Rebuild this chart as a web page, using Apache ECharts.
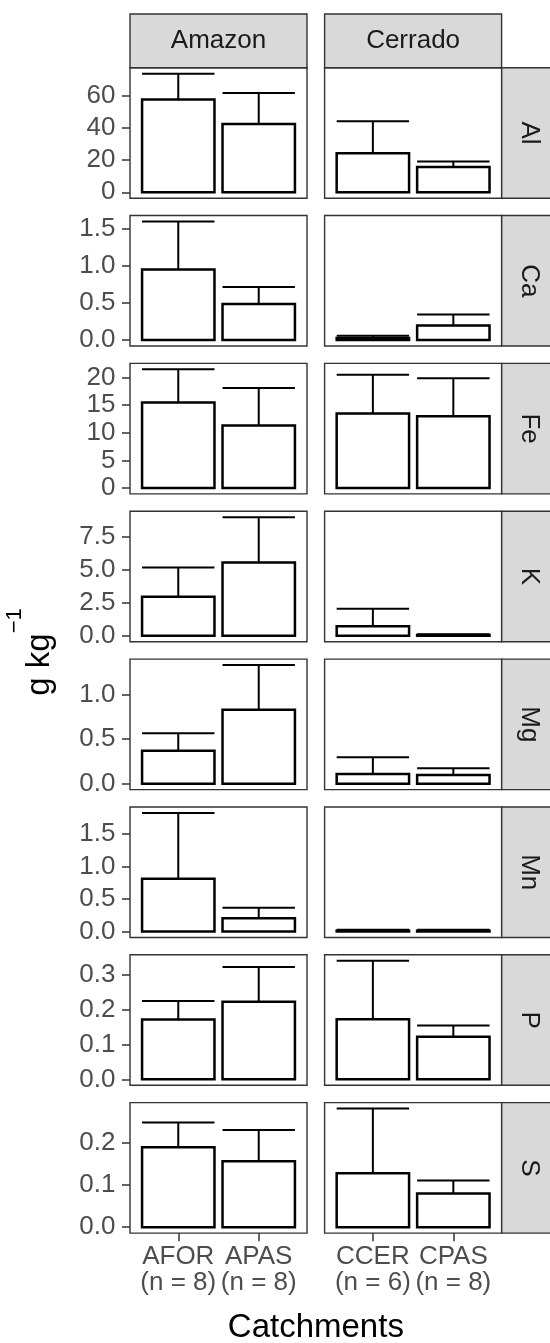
<!DOCTYPE html>
<html><head><meta charset="utf-8">
<script src="https://cdn.jsdelivr.net/npm/echarts@6/dist/echarts.min.js"></script>
<style>html,body{margin:0;padding:0;background:#fff}#c{width:550px;height:1343px}</style>
</head><body><div id="c"></div>
<script>
// ---------- data ----------
const regions = ['Amazon', 'Cerrado'];
const elements = ['Al', 'Ca', 'Fe', 'K', 'Mg', 'Mn', 'P', 'S'];
const catAmazon = ['AFOR\n(n = 8)', 'APAS\n(n = 8)'];
const catCerrado = ['CCER\n(n = 6)', 'CPAS\n(n = 8)'];
// bar heights (means), one value per element
const meanAFOR = [57.9, 0.95, 15.5, 2.95, 0.37, 0.81, 0.171, 0.190];
const meanAPAS = [42.6, 0.485, 11.3, 5.55, 0.83, 0.205, 0.222, 0.157];
const meanCCER = [24.4, 0.03, 13.5, 0.73, 0.108, 0.012, 0.172, 0.128];
const meanCPAS = [15.8, 0.196, 13.0, 0.06, 0.097, 0.012, 0.122, 0.080];
// error bar tops (mean + sd)
const upperAFOR = [74.0, 1.594, 21.5, 5.17, 0.567, 1.821, 0.224, 0.249];
const upperAPAS = [61.9, 0.713, 18.1, 8.97, 1.331, 0.363, 0.321, 0.231];
const upperCCER = [44.3, 0.06, 20.5, 2.05, 0.295, 0.028, 0.339, 0.282];
const upperCPAS = [19.2, 0.343, 19.9, 0.12, 0.172, 0.028, 0.154, 0.111];
// y tick labels per element row
const yTickLabels = [
  ['0', '20', '40', '60'],
  ['0.0', '0.5', '1.0', '1.5'],
  ['0', '5', '10', '15', '20'],
  ['0.0', '2.5', '5.0', '7.5'],
  ['0.0', '0.5', '1.0'],
  ['0.0', '0.5', '1.0', '1.5'],
  ['0.0', '0.1', '0.2', '0.3'],
  ['0.0', '0.1', '0.2']
];
const xTitle = 'Catchments';

// ---------- layout ----------
const FONT = '"Liberation Sans", Arial, sans-serif';
const colLeft = [130, 324.6];
const panelW = 177;
const rowTop0 = 67.7, rowStep = 147.85, panelH = 130.5;
const stripTop = 14, stripH = 53.7, rStripLeft = 501.7, rStripW = 54;
const BORDER = '#333333';

const chart = echarts.init(document.getElementById('c'), null, {renderer: 'canvas'});

const grids = [], xAxes = [], yAxes = [], series = [], graphics = [];
const cats = [catAmazon, catCerrado];
const means = [[meanAFOR, meanAPAS], [meanCCER, meanCPAS]];
const uppers = [[upperAFOR, upperAPAS], [upperCCER, upperCPAS]];

function renderItem(params, api) {
  const x = api.value(0), m = api.value(1), u = api.value(2);
  const hw = 0.45;
  const p0 = api.coord([x - hw, 0]), p1 = api.coord([x + hw, m]);
  const pm = api.coord([x, m]), pu = api.coord([x, u]);
  const cl = api.coord([x - hw, u]), cr = api.coord([x + hw, u]);
  return {
    type: 'group',
    children: [
      {type: 'line', shape: {x1: pm[0], y1: pm[1], x2: pu[0], y2: pu[1]}, style: {stroke: '#000', lineWidth: 2}},
      {type: 'line', shape: {x1: cl[0], y1: cl[1], x2: cr[0], y2: cr[1]}, style: {stroke: '#000', lineWidth: 2}},
      {type: 'rect', shape: {x: p0[0], y: p1[1], width: p1[0] - p0[0], height: p0[1] - p1[1]},
       style: {fill: '#fff', stroke: '#000', lineWidth: 2.5}}
    ]
  };
}

elements.forEach((el, r) => {
  let M = 0;
  for (let c = 0; c < 2; c++) for (let k = 0; k < 2; k++) M = Math.max(M, uppers[c][k][r], means[c][k][r]);
  const ymin = -0.05 * M, ymax = 1.05 * M;
  const tickVals = yTickLabels[r].map(Number);
  const top = rowTop0 + r * rowStep;
  for (let c = 0; c < 2; c++) {
    const gi = r * 2 + c;
    grids.push({left: colLeft[c], top: top, width: panelW, height: panelH, show: true,
      backgroundColor: '#fff', borderColor: BORDER, borderWidth: 1.4, containLabel: false});
    const bottom = r === elements.length - 1;
    xAxes.push({
      type: 'value', gridIndex: gi, min: 0.4, max: 2.6,
      axisLine: {show: false, onZero: false},
      splitLine: {show: false},
      axisTick: bottom ? {show: true, customValues: [1, 2], length: 8, lineStyle: {color: BORDER, width: 1.5}} : {show: false},
      axisLabel: bottom ? {
        show: true, customValues: [1, 2],
        formatter: (v) => cats[c][Math.round(v) - 1],
        fontSize: 26, color: '#4D4D4D', fontFamily: FONT, lineHeight: 26, margin: 11
      } : {show: false}
    });
    yAxes.push({
      type: 'value', gridIndex: gi, min: ymin, max: ymax,
      axisLine: {show: false, onZero: false},
      splitLine: {show: false},
      axisTick: c === 0 ? {show: true, customValues: tickVals, length: 8, lineStyle: {color: BORDER, width: 1.5}} : {show: false},
      axisLabel: c === 0 ? {
        show: true, customValues: tickVals,
        formatter: (v) => {
          let best = yTickLabels[r][0], bd = Infinity;
          yTickLabels[r].forEach(s => { const d = Math.abs(Number(s) - v); if (d < bd) { bd = d; best = s; } });
          return best;
        },
        fontSize: 26, color: '#4D4D4D', fontFamily: FONT, margin: 14.5
      } : {show: false}
    });
    series.push({
      type: 'custom', xAxisIndex: gi, yAxisIndex: gi,
      encode: {x: 0, y: 1},
      data: [[1, means[c][0][r], uppers[c][0][r]], [2, means[c][1][r], uppers[c][1][r]]],
      renderItem: renderItem, silent: true, clip: false
    });
  }
  // right strip
  graphics.push({type: 'rect', shape: {x: rStripLeft, y: top, width: rStripW, height: panelH},
    style: {fill: '#D9D9D9', stroke: BORDER, lineWidth: 1.4}, z: 10});
  graphics.push({type: 'text', x: rStripLeft + 27, y: top + panelH / 2, rotation: -Math.PI / 2,
    style: {text: el, fontSize: 26, fill: '#1A1A1A', fontFamily: FONT, align: 'center', verticalAlign: 'middle'}, z: 11});
});

regions.forEach((rg, c) => {
  graphics.push({type: 'rect', shape: {x: colLeft[c], y: stripTop, width: panelW, height: stripH},
    style: {fill: '#D9D9D9', stroke: BORDER, lineWidth: 1.4}, z: 10});
  graphics.push({type: 'text', x: colLeft[c] + panelW / 2, y: stripTop + stripH / 2,
    style: {text: rg, fontSize: 26, fill: '#1A1A1A', fontFamily: FONT, align: 'center', verticalAlign: 'middle'}, z: 11});
});

// axis titles
graphics.push({type: 'text', x: (colLeft[0] + rStripLeft) / 2, y: 1328,
  style: {text: xTitle, fontSize: 33, fill: '#000', fontFamily: FONT, align: 'center', verticalAlign: 'middle'}, z: 11});
graphics.push({type: 'text', x: 30, y: 652, rotation: Math.PI / 2,
  style: {text: '{a|g kg}{b|\u22121}', fontFamily: FONT, fill: '#000', align: 'center', verticalAlign: 'middle',
    rich: {a: {fontSize: 33, lineHeight: 52, verticalAlign: 'bottom', fontFamily: FONT, fill: '#000'},
           b: {fontSize: 22, lineHeight: 22, verticalAlign: 'top', fontFamily: FONT, fill: '#000'}}}, z: 11});

chart.setOption({
  animation: false,
  grid: grids, xAxis: xAxes, yAxis: yAxes, series: series,
  graphic: {elements: graphics}
});
</script></body></html>
